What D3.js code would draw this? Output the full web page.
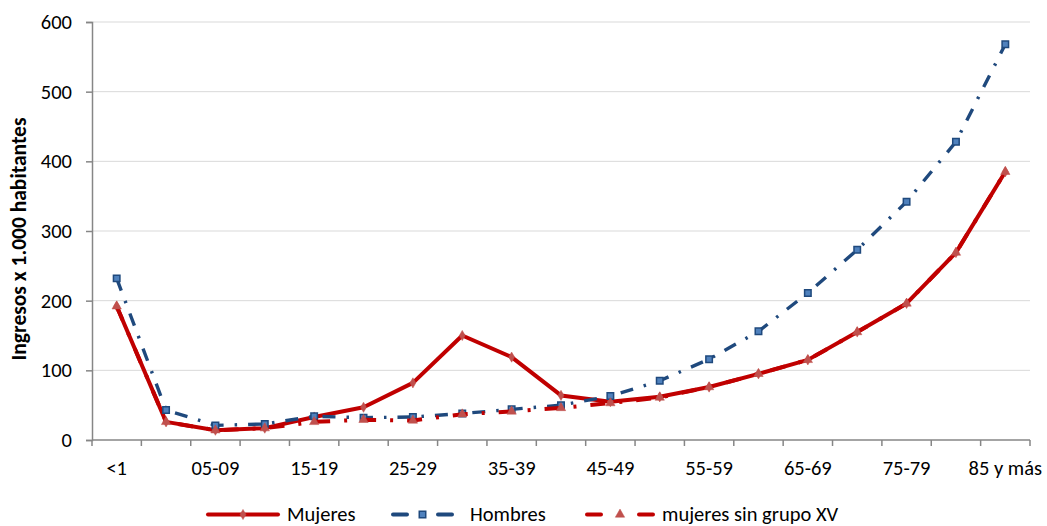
<!DOCTYPE html>
<html>
<head>
<meta charset="utf-8">
<script src="https://cdn.jsdelivr.net/npm/d3@7"></script>
<style>
  html, body { margin: 0; padding: 0; background: #fff; }
  svg { display: block; }
  text { font-family: Carlito, "Open Sans", "Liberation Sans", sans-serif; fill: #000; }
</style>
</head>
<body>
<svg id="chart" width="1047" height="526"></svg>
<script>
// Age groups
const categories = ["<1", "01-04", "05-09", "10-14", "15-19", "20-24", "25-29", "30-34", "35-39",
  "40-44", "45-49", "50-54", "55-59", "60-64", "65-69", "70-74", "75-79", "80-84", "85 y más"];

// Admissions per 1,000 inhabitants
const mujeres = [192, 26, 14, 17, 33, 47, 82, 150, 119, 64, 55, 62, 76, 95, 115, 155, 196, 269, 385];
const hombres = [232, 43, 21, 23, 34, 32, 33, 38, 44, 50, 63, 85, 116, 156, 211, 273, 342, 428, 568];
const mujeresSinXV = [192, 26, 14, 17, 26, 29, 28, 37, 41, 46, 53, 61, 76, 95, 115, 155, 196, 269, 385];

const yTicks = [0, 100, 200, 300, 400, 500, 600];
const tickLabelEvery = 2;

const seriesNames = ["Mujeres", "Hombres", "mujeres sin grupo XV"];

const FONT = 'Carlito, "Open Sans", "Liberation Sans", sans-serif';
const svg = d3.select("#chart");
const plot = { left: 92, right: 1030, top: 22, bottom: 440 };

const x = d3.scaleBand().domain(categories).range([plot.left, plot.right]).padding(0);
const y = d3.scaleLinear().domain([0, 600]).range([plot.bottom, plot.top]);
const cx = c => x(c) + x.bandwidth() / 2;

// Horizontal gridlines
svg.append("g")
  .selectAll("line")
  .data(yTicks.filter(t => t > 0))
  .join("line")
  .attr("x1", plot.left).attr("x2", plot.right)
  .attr("y1", d => y(d)).attr("y2", d => y(d))
  .attr("stroke", "#d9d9d9").attr("stroke-width", 1);

// Y axis
const yAxis = svg.append("g")
  .attr("transform", `translate(${plot.left},0)`)
  .call(d3.axisLeft(y).tickValues(yTicks).tickSize(6).tickPadding(14).tickFormat(d3.format("d")));
yAxis.select(".domain").attr("stroke", "#868686").attr("stroke-width", 1.5);
yAxis.selectAll(".tick line").attr("stroke", "#868686").attr("stroke-width", 1.5);
yAxis.selectAll(".tick text").style("font-size", "20.5px").style("font-family", FONT).attr("fill", "#000");

// X axis: ticks on category boundaries, labels on every other category
const xAxis = svg.append("g").attr("transform", `translate(0,${plot.bottom})`);
xAxis.append("line")
  .attr("x1", plot.left).attr("x2", plot.right)
  .attr("stroke", "#868686").attr("stroke-width", 1.5);
xAxis.selectAll("line.tk")
  .data(categories.map(c => x(c)).concat([plot.right]))
  .join("line").attr("class", "tk")
  .attr("x1", d => d).attr("x2", d => d)
  .attr("y1", 0).attr("y2", 6)
  .attr("stroke", "#868686").attr("stroke-width", 1.5);
xAxis.selectAll("text")
  .data(categories.filter((c, i) => i % tickLabelEvery === 0))
  .join("text")
  .attr("x", d => cx(d)).attr("y", 35)
  .attr("text-anchor", "middle")
  .style("font-size", "20.5px")
  .text(d => d);

// Y axis title
svg.append("text")
  .attr("transform", `translate(26,239) rotate(-90)`)
  .attr("text-anchor", "middle")
  .style("font-size", "21.5px").style("font-weight", "bold")
  .text("Ingresos x 1.000 habitantes");

const line = d3.line().x((d, i) => cx(categories[i])).y(d => y(d));

const styles = [
  { name: seriesNames[0], data: mujeres, color: "#C00000", width: 4, dash: null, marker: "diamond", mfill: "#C0504D", mstroke: "#C0504D", msize: 30 },
  { name: seriesNames[1], data: hombres, color: "#1F497D", width: 3.4, dash: "13,11,2.5,11", marker: "square", mfill: "#4F81BD", mstroke: "#1F497D", msize: 42 },
  { name: seriesNames[2], data: mujeresSinXV, color: "#C00000", width: 4, dash: "15,14,3,14", marker: "triangle", mfill: "#C0504D", mstroke: "#C0504D", msize: 38 }
];

const symbolType = { diamond: d3.symbolDiamond, square: d3.symbolSquare, triangle: d3.symbolTriangle };

styles.forEach(s => {
  const g = svg.append("g");
  g.append("path")
    .attr("d", line(s.data))
    .attr("fill", "none")
    .attr("stroke", s.color)
    .attr("stroke-width", s.width)
    .attr("stroke-linejoin", "round")
    .attr("stroke-dasharray", s.dash);
  g.selectAll("path.m")
    .data(s.data)
    .join("path").attr("class", "m")
    .attr("transform", (d, i) => `translate(${cx(categories[i])},${y(d)})`)
    .attr("d", d3.symbol().type(symbolType[s.marker]).size(s.msize))
    .attr("fill", s.mfill)
    .attr("stroke", s.mstroke)
    .attr("stroke-width", s.marker === "square" ? 1.5 : 0.5);
});

// Legend
const legendY = 514.5;
const legendItems = [
  { s: styles[0], x0: 208, x1: 278, tx: 287 },
  { s: styles[1], x0: 393, x1: 452, tx: 470 },
  { s: styles[2], x0: 587, x1: 653, tx: 662 }
];
const lg = svg.append("g");
legendItems.forEach(item => {
  const s = item.s;
  const mid = (item.x0 + item.x1) / 2;
  if (!s.dash) {
    lg.append("line")
      .attr("x1", item.x0).attr("x2", item.x1)
      .attr("y1", legendY).attr("y2", legendY)
      .attr("stroke", s.color).attr("stroke-width", s.width)
      .attr("stroke-linecap", "round");
  } else {
    const seg = 14;
    [[item.x0, item.x0 + seg], [item.x1 - seg, item.x1]].forEach(([a, b]) => {
      lg.append("line")
        .attr("x1", a).attr("x2", b)
        .attr("y1", legendY).attr("y2", legendY)
        .attr("stroke", s.color).attr("stroke-width", 4)
        .attr("stroke-linecap", "round");
    });
  }
  lg.append("path")
    .attr("transform", `translate(${mid},${legendY})`)
    .attr("d", d3.symbol().type(symbolType[s.marker]).size(s.msize))
    .attr("fill", s.mfill).attr("stroke", s.mstroke)
    .attr("stroke-width", s.marker === "square" ? 1.5 : 0.5);
  lg.append("text")
    .attr("x", item.tx).attr("y", legendY + 6.5)
    .style("font-size", "20.5px")
    .text(s.name);
});
</script>
</body>
</html>
